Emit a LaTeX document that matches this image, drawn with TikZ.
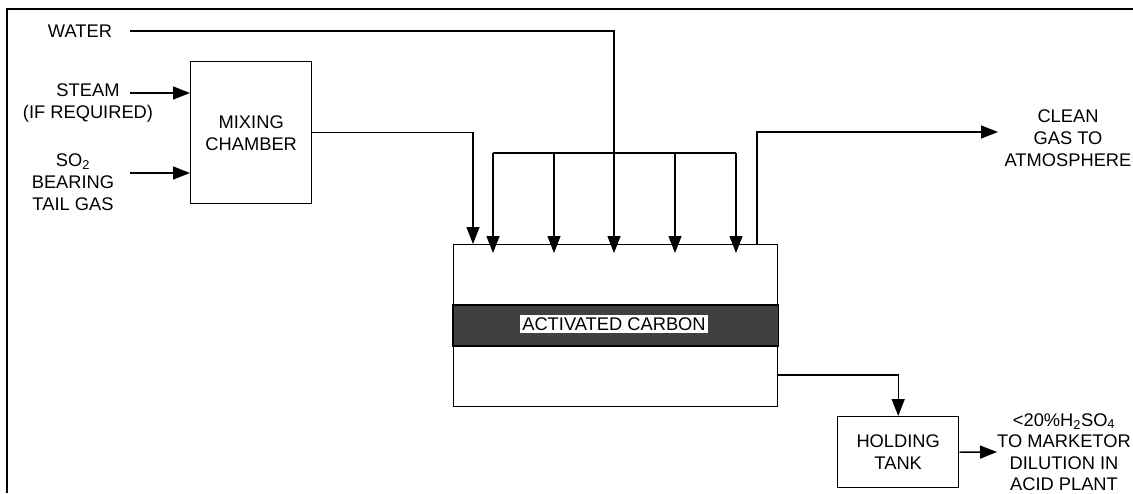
\documentclass[tikz,border=0pt]{standalone}
\usepackage{fontspec}
\setmainfont{Liberation Sans}
\usetikzlibrary{arrows.meta}
\definecolor{bandgray}{HTML}{404040}
\begin{document}
\begin{tikzpicture}[x=1pt,y=-1pt, line width=1.4pt,
  >={Triangle[length=17pt,width=13pt]},
  txt/.style={align=center, inner sep=0pt, font=\fontsize{18.3}{22}\selectfont},
  box/.style={draw, line width=1.4pt, align=center, inner sep=0pt, font=\fontsize{18.3}{22}\selectfont, anchor=north west}]
\useasboundingbox (0,0) rectangle (1133,493);
% frame
\draw[line width=2.2pt] (7,493) -- (7,9) -- (1133,9);
% boxes
\node[box, minimum width=121pt, minimum height=142pt] (mix) at (190,61) {MIXING\\CHAMBER};
\node[box, minimum width=324pt, minimum height=162pt] (bed) at (453,244) {};
\filldraw[fill=bandgray] (bed.west |- 0,305) rectangle (bed.east |- 0,346);
\node[txt, fill=white, inner sep=2.5pt] (ac) at (614,324) {ACTIVATED CARBON};
\node[box, minimum width=121pt, minimum height=71pt] (tank) at (837,416) {HOLDING\\TANK};
% texts
\node[txt] (water) at (80,31) {WATER};
\node[txt] (steam) at (88,103) {STEAM\\(IF REQUIRED)};
\node[txt] (so2) at (73,182) {SO\textsubscript{2}\\BEARING\\TAIL GAS};
\node[txt] (clean) at (1068,138) {CLEAN\\GAS TO\\ATMOSPHERE};
\node[txt, font=\fontsize{18.3}{21.5}\selectfont] (acid) at (1064,452) {<20\%H\textsubscript{2}SO\textsubscript{4}\\TO MARKETOR\\DILUTION IN\\ACID PLANT};
% coordinates
\coordinate (w0) at (130,31);
\coordinate (s1) at (130,93);
\coordinate (s2) at (130,173);
\coordinate (min) at (473,244);
\coordinate (h1) at (493,153);
\coordinate (h5) at (736,153);
\coordinate (d1) at (493,253);
\coordinate (d2) at (554,253);
\coordinate (d3) at (614,253);
\coordinate (d4) at (675,253);
\coordinate (d5) at (736,253);
\coordinate (c0) at (757,244);
\coordinate (c1) at (998,132);
\coordinate (b0) at (777,375);
\coordinate (t1) at (997,452);
% connectors
\draw[->] (s1) -- (s1 -| mix.west);
\draw[->] (s2) -- (s2 -| mix.west);
\draw[->] (w0) -| (d3);
\draw[->] (mix.east) -| (min);
\draw (h1) -- (h5);
\draw[->] (h1) -- (d1);
\draw[->] (d2 |- h1) -- (d2);
\draw[->] (d4 |- h1) -- (d4);
\draw[->] (h5) -- (d5);
\draw[->] (c0) |- (c1);
\draw[->] (b0) -| (tank.north);
\draw[->] (tank.east) -- (t1);
\end{tikzpicture}
\end{document}
